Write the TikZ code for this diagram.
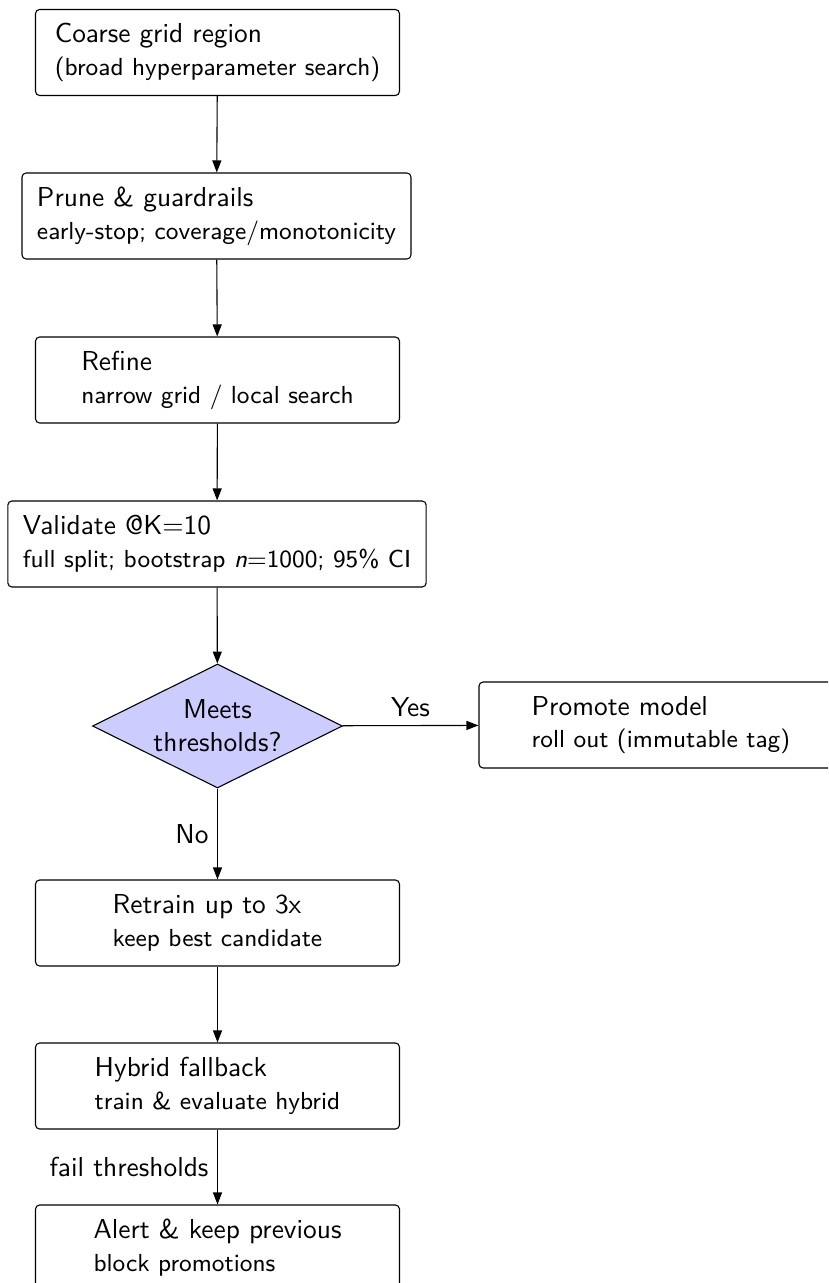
\documentclass[tikz,border=0pt]{standalone}
\usetikzlibrary{shapes.geometric,arrows.meta}
\begin{document}
\def\u{0.365pt}
\begin{tikzpicture}[x=\u, y=-\u, font=\sffamily,
  stepbox/.style={draw, rounded corners=1.5pt, align=left,
    minimum width=364*\u, minimum height=86*\u, inner xsep=15*\u},
  decision/.style={draw, diamond, fill=blue!20, aspect=2,
    minimum width=250*\u, minimum height=124*\u, inner sep=0pt, align=center},
  flow/.style={-{Triangle[length=12*\u, width=9*\u]}},
  edgelabel/.style={inner sep=3.1pt}]
\useasboundingbox (0,0) rectangle (828,1283);
\clip (0,0) rectangle (828,1283);

\node[stepbox] (coarse) at (217.5,52.5)
  {Coarse grid region\\{\small (broad hyperparameter search)}};
\node[stepbox] (prune) at (216.5,216)
  {Prune \& guardrails\\{\small early-stop; coverage/monotonicity}};
\node[stepbox] (refine) at (217.5,380)
  {Refine\\{\small narrow grid / local search}};
\node[stepbox] (validate) at (217,544)
  {Validate @K=10\\{\small full split; bootstrap \textit{n}=1000; 95\% CI}};
\node[decision] (meets) at (217.5,726) {Meets\\thresholds?};
\node[stepbox] (promote) at (661,725)
  {Promote model\\{\small roll out (immutable tag)}};
\node[stepbox] (retrain) at (217.5,923)
  {Retrain up to 3x\\{\small keep best candidate}};
\node[stepbox] (hybrid) at (217.5,1086)
  {Hybrid fallback\\{\small train \& evaluate hybrid}};
\node[stepbox] (alert) at (217.5,1248)
  {Alert \& keep previous\\{\small block promotions}};

\draw[flow] (coarse) -- (prune);
\draw[flow] (prune) -- (refine);
\draw[flow] (refine) -- (validate);
\draw[flow] (validate) -- (meets);
\draw[flow] (meets) -- node[edgelabel, above] {Yes} (promote);
\draw[flow] (meets) -- node[edgelabel, left] {No} (retrain);
\draw[flow] (retrain) -- (hybrid);
\draw[flow] (hybrid) -- node[edgelabel, left] {fail thresholds} (alert);
\end{tikzpicture}
\end{document}
